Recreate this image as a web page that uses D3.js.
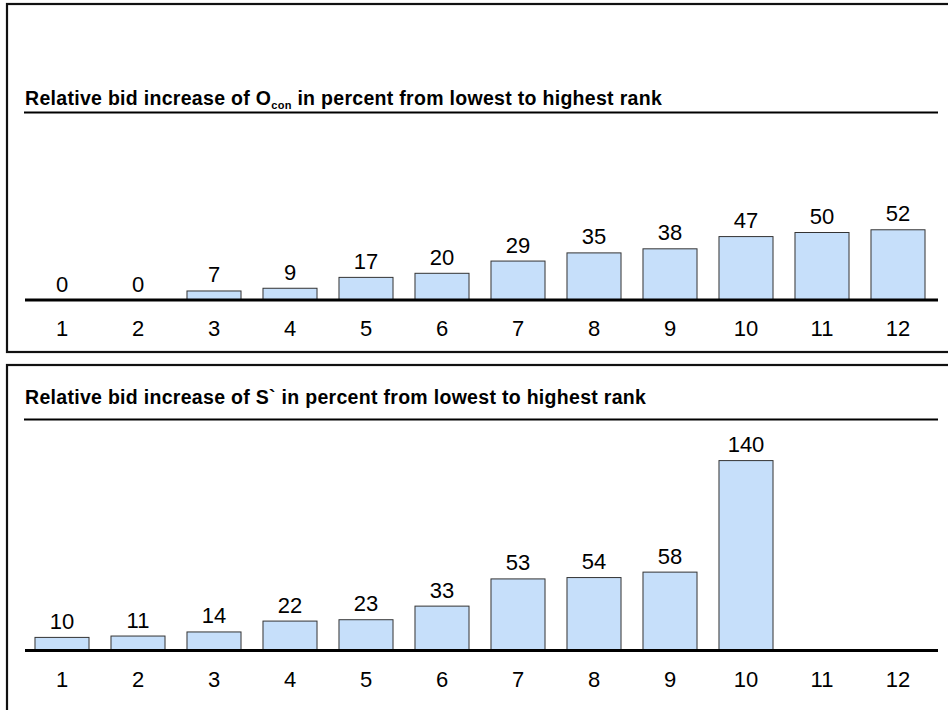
<!DOCTYPE html>
<html><head><meta charset="utf-8">
<script src="https://cdn.jsdelivr.net/npm/d3@7"></script>
<style>
html,body{margin:0;padding:0;background:#fff;}
svg{display:block;font-family:"Liberation Sans",Arial,Helvetica,sans-serif;}
</style></head>
<body>
<svg id="chart" width="948" height="710"></svg>
<script>
const ranks = [1,2,3,4,5,6,7,8,9,10,11,12];
const oconValues = [0,0,7,9,17,20,29,35,38,47,50,52];
const sValues = [10,11,14,22,23,33,53,54,58,140,null,null];
const titleTop = ["Relative bid increase of O", "con", " in percent from lowest to highest rank"];
const titleBottom = "Relative bid increase of S` in percent from lowest to highest rank";

const svg = d3.select("#chart");

const x = d3.scaleBand().domain(ranks).range([24, 936]).paddingInner(0.276).paddingOuter(0.138);
const pxPerUnit = 1.36;

function panel(opts){
  const g = svg.append("g");
  g.append("rect").attr("x", 7).attr("y", opts.top).attr("width", 960).attr("height", opts.height)
    .attr("fill","none").attr("stroke","#111").attr("stroke-width",2.2);
  const t = g.append("text").attr("x", 25).attr("y", opts.titleY)
    .attr("font-size", 19.5).attr("font-weight","bold").attr("fill","#000")
    .attr("letter-spacing", 0.3);
  if (Array.isArray(opts.title)) {
    t.append("tspan").text(opts.title[0]);
    t.append("tspan").attr("font-size", 11).attr("dy", 4).text(opts.title[1]);
    t.append("tspan").attr("dy", -4).text(opts.title[2]);
  } else t.text(opts.title);
  g.append("line").attr("x1",24).attr("x2",938).attr("y1",opts.titleLineY).attr("y2",opts.titleLineY)
    .attr("stroke","#000").attr("stroke-width",2.2);

  const axisY = opts.axisY;
  const y = d3.scaleLinear().domain([0,140]).range([axisY, axisY - 140*pxPerUnit]);
  const data = ranks.map((r,i)=>({r, v: opts.values[i]})).filter(d=>d.v!==null);
  g.selectAll("rect.bar").data(data.filter(d=>d.v>0)).join("rect").attr("class","bar")
    .attr("x", d=>x(d.r)+0.5).attr("width", x.bandwidth()-1)
    .attr("y", d=>y(d.v)+0.5).attr("height", d=>axisY - y(d.v))
    .attr("fill","#c6dffa").attr("stroke","#333").attr("stroke-width",1);
  g.selectAll("text.val").data(data).join("text").attr("class","val")
    .attr("x", d=>x(d.r)+x.bandwidth()/2).attr("y", d=>y(d.v)-8)
    .attr("text-anchor","middle").attr("font-size",22).attr("fill","#000").text(d=>d.v);
  const axis = d3.axisBottom(x).tickSize(0).tickPadding(0);
  const ag = g.append("g").attr("transform",`translate(0,${axisY})`).call(axis);
  ag.select(".domain").remove();
  ag.selectAll("text").attr("font-size",22).attr("font-family","Liberation Sans, Arial, sans-serif")
    .attr("fill","#000").attr("y", 36).attr("dy", null);
  g.append("line").attr("x1",25).attr("x2",938).attr("y1",axisY).attr("y2",axisY)
    .attr("stroke","#000").attr("stroke-width",3);
}

panel({top:4, height:348, title:titleTop, titleY:105, titleLineY:112.5, axisY:300, values:oconValues});
panel({top:365, height:400, title:titleBottom, titleY:404, titleLineY:419.5, axisY:650.5, values:sValues});
</script>
</body></html>
